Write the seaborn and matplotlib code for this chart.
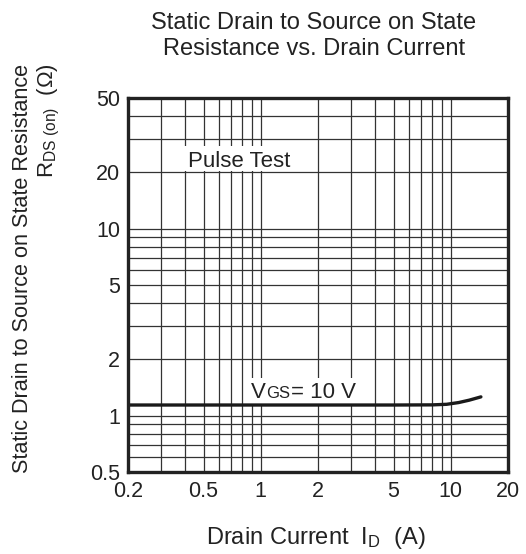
import numpy as np
import pandas as pd
import matplotlib
matplotlib.use("Agg")
import matplotlib.pyplot as plt
import seaborn as sns
from matplotlib.ticker import FixedLocator, FixedFormatter, NullFormatter
from matplotlib.patches import Rectangle

# Data
drain_current = [0.2, 0.5, 1.0, 2.0, 5.0, 8.0, 9.5, 11.0, 12.5, 14.4]
rds_on = [1.14, 1.14, 1.14, 1.14, 1.14, 1.142, 1.15, 1.175, 1.21, 1.26]

x_major = [0.2, 0.5, 1, 2, 5, 10, 20]
x_major_labels = ["0.2", "0.5", "1", "2", "5", "10", "20"]
y_major = [0.5, 1, 2, 5, 10, 20, 50]
y_major_labels = ["0.5", "1", "2", "5", "10", "20", "50"]
x_grid_minor = [0.3, 0.4, 0.6, 0.7, 0.8, 0.9, 3, 4, 6, 7, 8, 9]
y_grid_minor = [0.6, 0.7, 0.8, 0.9, 3, 4, 6, 7, 8, 9, 30, 40]

sns.set_style("white")
plt.rcParams['font.family'] = ['Liberation Sans', 'DejaVu Sans']
plt.rcParams['mathtext.fontset'] = 'custom'
plt.rcParams['mathtext.rm'] = 'Liberation Sans'
plt.rcParams['mathtext.it'] = 'Liberation Sans'
plt.rcParams['mathtext.default'] = 'regular'

TXT = "#222222"
W, H = 526, 554
fig = plt.figure(figsize=(W / 100, H / 100), dpi=100)
L, R, T, B = 128, 508, 97.7, 472
ax = fig.add_axes([L / W, 1 - B / H, (R - L) / W, (B - T) / H])

df = pd.DataFrame({"Id": drain_current, "Rds": rds_on})
sns.lineplot(data=df, x="Id", y="Rds", ax=ax, color="#1a1a1a", lw=2.4, zorder=5)

ax.set_xscale("log")
ax.set_yscale("log")
ax.set_xlim(0.2, 20)
ax.set_ylim(0.5, 50)

ax.xaxis.set_major_locator(FixedLocator(x_major))
ax.xaxis.set_major_formatter(FixedFormatter(x_major_labels))
ax.yaxis.set_major_locator(FixedLocator(y_major))
ax.yaxis.set_major_formatter(FixedFormatter(y_major_labels))
ax.xaxis.set_minor_locator(FixedLocator(x_grid_minor))
ax.yaxis.set_minor_locator(FixedLocator(y_grid_minor))
ax.xaxis.set_minor_formatter(NullFormatter())
ax.yaxis.set_minor_formatter(NullFormatter())
ax.tick_params(which="both", length=0, labelsize=15.5, colors=TXT)
ax.tick_params(axis="y", pad=5.5)
ax.tick_params(axis="x", pad=6.5)
ax.grid(True, which="both", color="#333333", lw=0.9)
ax.set_axisbelow(True)

for s in ax.spines.values():
    s.set_visible(True)
    s.set_color("#222222")
    s.set_linewidth(2.4)
    s.set_zorder(6)

ax.set_xlabel("")
ax.set_ylabel("")

# White backgrounds behind annotations
ax.add_patch(Rectangle((0.395, 20.4), 1.6 - 0.395, 27.5 - 20.4, facecolor="white",
                       edgecolor="none", zorder=2))
ax.add_patch(Rectangle((0.84, 1.16), 3.1 - 0.84, 1.58 - 1.16, facecolor="white",
                       edgecolor="none", zorder=2))

# Annotations
ax.text(0.415, 21.3, "Pulse Test", fontsize=16, color=TXT, ha="left", va="baseline", zorder=4)

x0, y0 = 0.888, 1.243
t1 = ax.text(x0, y0, "V", fontsize=16, color=TXT, ha="left", va="baseline", zorder=4)
fig.canvas.draw()
r = fig.canvas.get_renderer()
w1 = t1.get_window_extent(r).width
t2 = ax.annotate("GS", xy=(x0, y0), xycoords="data", xytext=(w1 * 0.72, 0),
                 textcoords="offset points", fontsize=12, color=TXT, ha="left",
                 va="baseline", zorder=4)
fig.canvas.draw()
w2 = t2.get_window_extent(r).width
ax.annotate("= 10 V", xy=(x0, y0), xycoords="data", xytext=((w1 + w2 + 1) * 0.72, 0),
            textcoords="offset points", fontsize=16, color=TXT, ha="left",
            va="baseline", zorder=4)

# Title
fig.text(314 / W, 1 - 36 / H, "Static Drain to Source on State\nResistance vs. Drain Current",
         ha="center", va="center", fontsize=17, color=TXT, linespacing=1.25)

# X label
fig.text(316 / W, 1 - 538 / H, r"Drain Current  I$_{\rm D}$  (A)", ha="center", va="center",
         fontsize=17, color=TXT)

# Y label (two lines)
fig.text(23 / W, 1 - 268 / H, "Static Drain to Source on State Resistance", rotation=90,
         ha="center", va="center", fontsize=15.6, color=TXT)
fig.text(49 / W, 1 - 63 / H, r"R$_{\rm DS\ (on)}$  ($\Omega$)", rotation=90,
         ha="center", va="top", fontsize=16, color=TXT)

fig.savefig("out.png", dpi=100)
